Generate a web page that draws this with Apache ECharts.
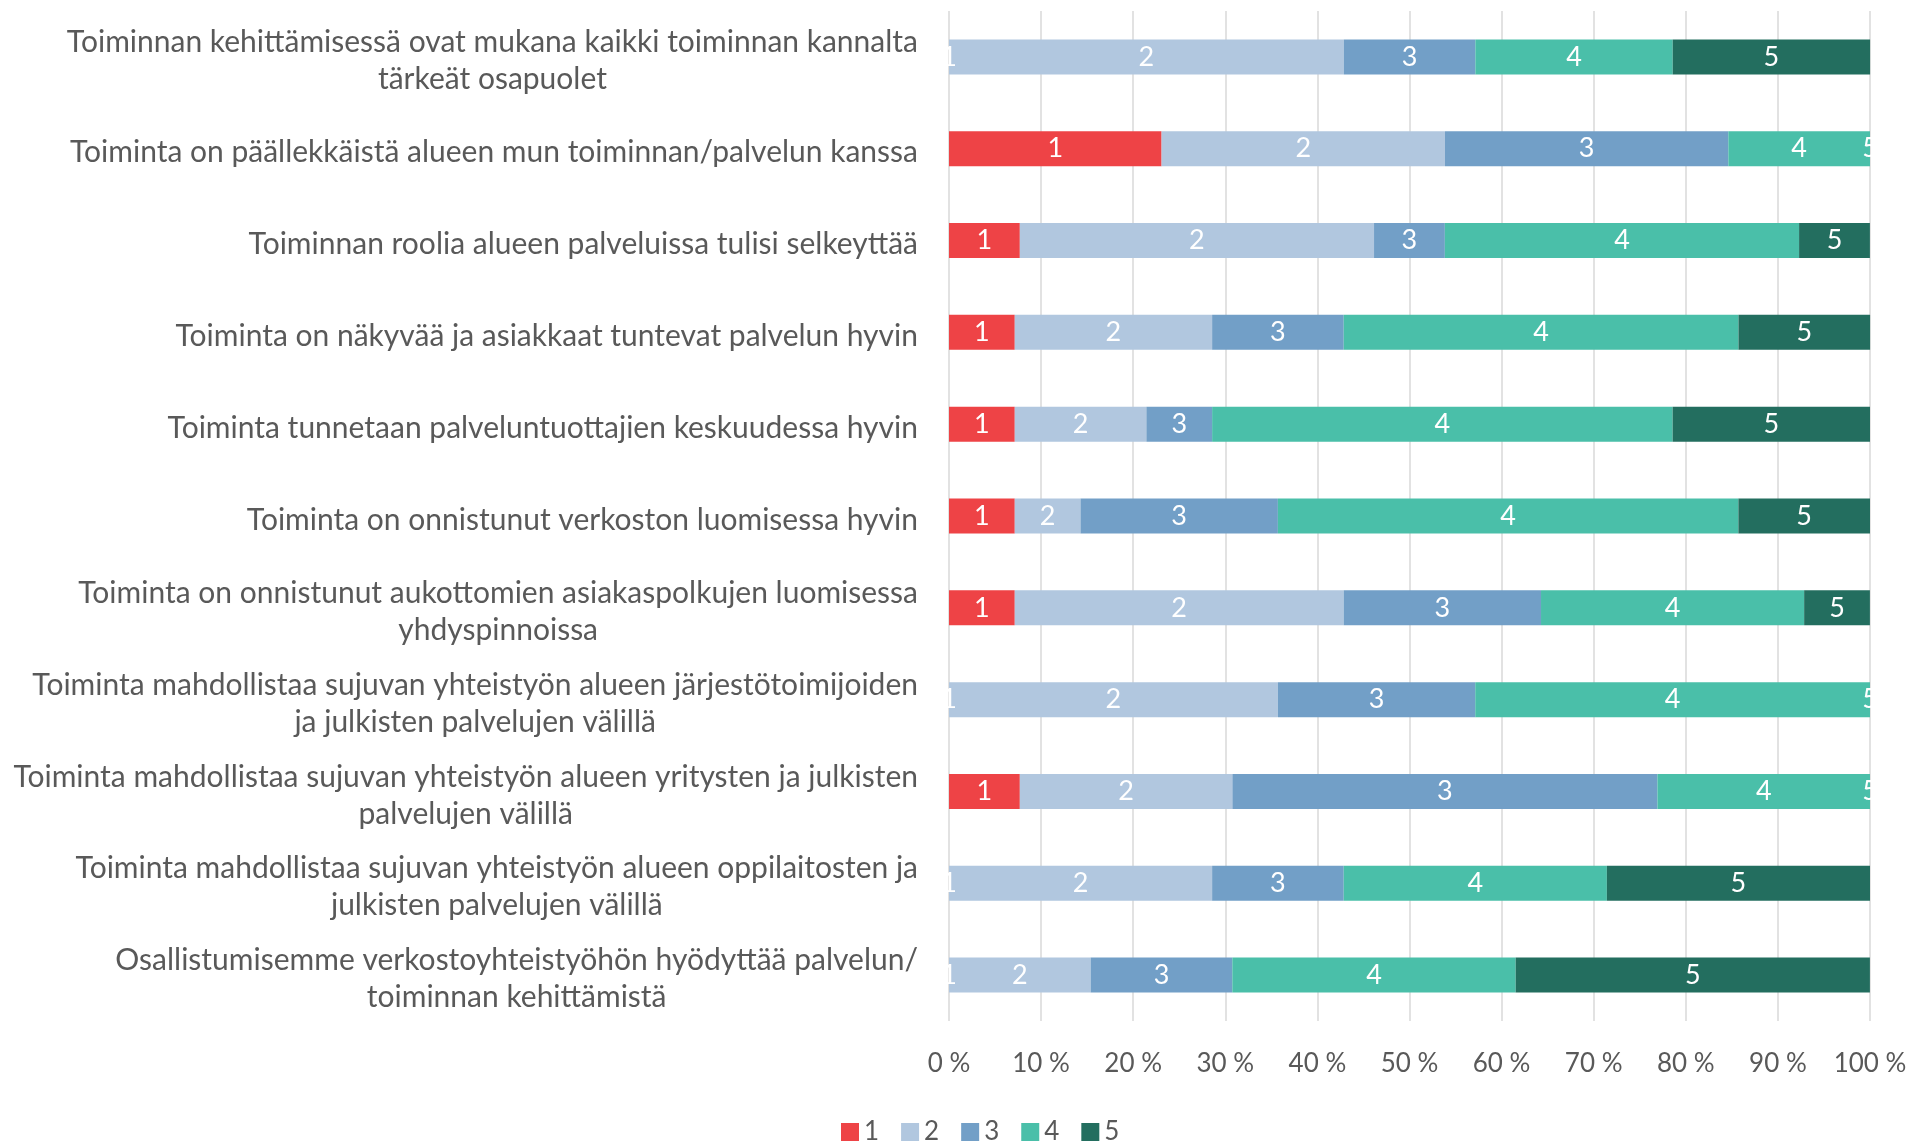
<!DOCTYPE html>
<html>
<head>
<meta charset="utf-8">
<script src="https://cdn.jsdelivr.net/npm/echarts@6/dist/echarts.min.js"></script>
<style>
  html, body { margin: 0; padding: 0; background: #fff; }
  #stacked_bars { width: 1915px; height: 1142px; }
</style>
</head>
<body>
<div id="stacked_bars"></div>
<script>
var categories = [
    'Toiminnan kehittämisessä ovat mukana kaikki toiminnan kannalta\ntärkeät osapuolet',
    'Toiminta on päällekkäistä alueen mun toiminnan/palvelun kanssa',
    'Toiminnan roolia alueen palveluissa tulisi selkeyttää',
    'Toiminta on näkyvää ja asiakkaat tuntevat palvelun hyvin',
    'Toiminta tunnetaan palveluntuottajien keskuudessa hyvin',
    'Toiminta on onnistunut verkoston luomisessa hyvin',
    'Toiminta on onnistunut aukottomien asiakaspolkujen luomisessa\nyhdyspinnoissa',
    'Toiminta mahdollistaa sujuvan yhteistyön alueen järjestötoimijoiden\nja julkisten palvelujen välillä',
    'Toiminta mahdollistaa sujuvan yhteistyön alueen yritysten ja julkisten\npalvelujen välillä',
    'Toiminta mahdollistaa sujuvan yhteistyön alueen oppilaitosten ja\njulkisten palvelujen välillä',
    'Osallistumisemme verkostoyhteistyöhön hyödyttää palvelun/\ntoiminnan kehittämistä'
];
var seriesNames = ['1', '2', '3', '4', '5'];
// percentages per answer option
var answers1 = [0, 23.08, 7.69, 7.14, 7.14, 7.14, 7.14, 0, 7.69, 0, 0];
var answers2 = [42.86, 30.77, 38.46, 21.43, 14.29, 7.14, 35.71, 35.71, 23.08, 28.57, 15.38];
var answers3 = [14.29, 30.77, 7.69, 14.29, 7.14, 21.43, 21.43, 21.43, 46.15, 14.29, 15.38];
var answers4 = [21.43, 15.38, 38.46, 42.86, 50.0, 50.0, 28.57, 42.86, 23.08, 28.57, 30.77];
var answers5 = [21.43, 0, 7.69, 14.29, 21.43, 14.29, 7.14, 0, 0, 28.57, 38.46];
var colors = ['#EE4346', '#B1C7DF', '#729FC7', '#4ABFA9', '#236E5F'];

var fontName = 'Lato, sans-serif';
var stacked_bars = echarts.init(document.getElementById('stacked_bars'));

function makeSeries(name, data, color) {
    return {
        name: name,
        type: 'bar',
        stack: 'total',
        data: data,
        barWidth: 35,
        clip: false,
        itemStyle: {
            color: color
        },
        label: {
            show: true,
            position: 'inside',
            formatter: '{a}',
            color: '#fff',
            fontSize: 27,
            fontFamily: fontName
        },
        emphasis: { disabled: true }
    };
}

function getStackedBarsOption() {
    var allData = [answers1, answers2, answers3, answers4, answers5];
    return {
        animation: false,
        legend: {
            data: seriesNames,
            left: 836,
            top: 1114,
            icon: 'rect',
            itemWidth: 18,
            itemHeight: 18,
            itemGap: 22,
            textStyle: {
                fontSize: 26,
                color: '#595959',
                fontFamily: fontName
            }
        },
        grid: {
            left: 949,
            right: 45,
            top: 11,
            bottom: 121,
            containLabel: false
        },
        xAxis: {
            type: 'value',
            min: 0,
            max: 100,
            interval: 10,
            axisLine: { show: false },
            axisTick: { show: false },
            axisLabel: {
                formatter: '{value} %',
                margin: 30,
                fontSize: 26,
                color: '#595959',
                fontFamily: fontName
            },
            splitLine: {
                lineStyle: {
                    color: '#D9D9D9',
                    width: 1.5
                }
            }
        },
        yAxis: {
            type: 'category',
            inverse: true,
            data: categories,
            axisLine: { show: false },
            axisTick: { show: false },
            axisLabel: {
                margin: 31,
                padding: [8, 0, 0, 0],
                formatter: function (value) {
                    return value.split('\n').map(function (line) {
                        return '{c|' + line + '}';
                    }).join('\n');
                },
                rich: {
                    c: {
                        align: 'center',
                        fontSize: 30,
                        lineHeight: 37,
                        color: '#595959',
                        fontFamily: fontName
                    }
                }
            }
        },
        series: seriesNames.map(function (n, i) {
            return makeSeries(n, allData[i], colors[i]);
        })
    };
}

stacked_bars.setOption(getStackedBarsOption());
window.addEventListener('resize', function () {
    stacked_bars.resize();
});
</script>
</body>
</html>
